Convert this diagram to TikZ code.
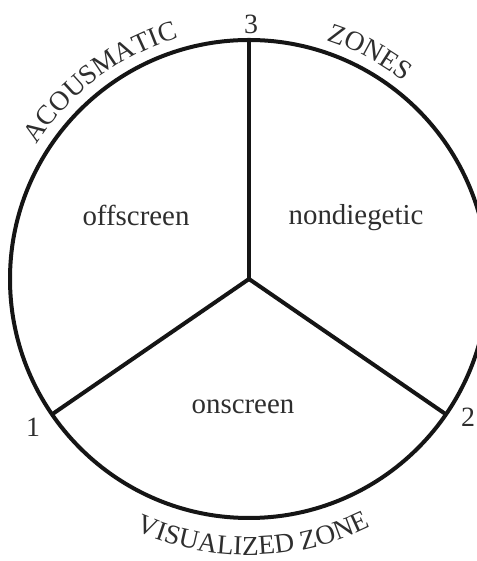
\documentclass[tikz,border=0pt]{standalone}
\usepackage{fontspec}
\setmainfont{Liberation Serif}
\usetikzlibrary{decorations.text}
\definecolor{ink}{HTML}{151515}
\definecolor{txt}{HTML}{2E2E2E}
\newcommand\zonefont{\fontsize{27.5}{27.5}\selectfont}
\begin{document}
\begin{tikzpicture}[x=1bp,y=1bp,
  rim/.style={line width=4bp, draw=ink},
  spoke/.style={line width=4bp, draw=ink},
  region/.style={text=txt, font=\fontsize{29}{29}\selectfont, inner sep=0pt},
  digit/.style={text=txt, font=\fontsize{28}{28}\selectfont, inner sep=0pt},
  arctext/.style={decorate, decoration={text along path, text align=center, text color=txt}}]
\useasboundingbox (0,0) rectangle (477,561);
\coordinate (O) at (249,282);

% outer circle and the three spokes
\draw[rim] (O) circle[radius=239];
\path (O) ++(90:239) coordinate (p3);
\path (O) ++(214.5:239) coordinate (p1);
\path (O) ++(325.5:239) coordinate (p2);
\draw[spoke] (O) -- (p3);
\draw[spoke] (O) -- (p1);
\draw[spoke] (O) -- (p2);

% region names
\node[region] (off) at (136,346) {offscreen};
\node[region] (nond) at (356,343) {nondiegetic};
\node[region] (on) at (243,154) {onscreen};

% endpoint numbers
\node[digit] (d3) at (251,537) {3};
\node[digit] (d1) at (33,134) {1};
\node[digit] (d2) at (468,144) {2};

% curved captions around the rim
\path[arctext, decoration={text={|\zonefont|ACOUSMATIC}}]
  (O) ++(165:251) arc[start angle=165, end angle=89, radius=251];
\path[arctext, decoration={text={|\zonefont|ZONES}}]
  (O) ++(92:251) arc[start angle=92, end angle=32, radius=251];
\path[arctext, decoration={text={|\zonefont|VISUALIZED ZONE}}]
  (O) ++(228:276) arc[start angle=228, end angle=314, radius=276];
\end{tikzpicture}
\end{document}
